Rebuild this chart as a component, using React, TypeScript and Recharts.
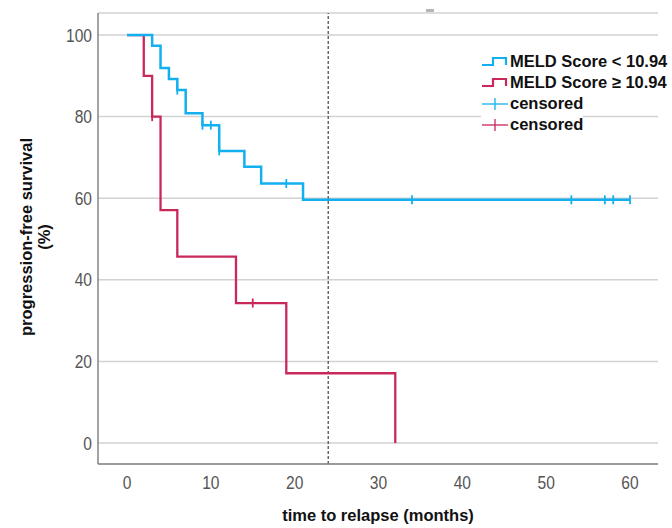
import React from 'react';
import { ComposedChart, Line, Scatter, XAxis, YAxis, CartesianGrid, ReferenceLine } from 'recharts';

// MELD < 10.94 group
const lowTimes = [0, 3, 4, 5, 6, 7, 9, 11, 14, 16, 21, 60];
const lowSurv = [100, 97.4, 91.9, 89.2, 86.5, 80.8, 77.9, 71.6, 67.7, 63.6, 59.6, 59.6];
const lowCensorTimes = [6, 9, 10, 11, 19, 34, 53, 57, 58, 60];
const lowCensorSurv = [86.5, 77.9, 77.9, 71.6, 63.6, 59.6, 59.6, 59.6, 59.6, 59.6];

// MELD >= 10.94 group
const highTimes = [0, 2, 3, 4, 6, 13, 19, 32];
const highSurv = [100, 90, 80, 57.1, 45.7, 34.3, 17.1, 0];
const highCensorTimes = [3, 15];
const highCensorSurv = [80, 34.3];

const xTicks = [0, 10, 20, 30, 40, 50, 60];
const yTicks = [0, 20, 40, 60, 80, 100];
const landmark = 24;

const BLUE = '#12b0ef';
const RED = '#c9285a';

const toRows = (t: number[], s: number[]) => t.map((v, i) => ({ t: v, s: s[i] }));

const lowCurve = toRows(lowTimes, lowSurv);
const highCurve = toRows(highTimes, highSurv);
const lowCensor = toRows(lowCensorTimes, lowCensorSurv);
const highCensor = toRows(highCensorTimes, highCensorSurv);

const censorShape = (color: string) => (props: any) => {
    const { cx, cy } = props;
    return <line x1={cx} x2={cx} y1={cy - 4.5} y2={cy + 4.5} stroke={color} strokeWidth={1.8} />;
};

const YTick = ({ x, y, payload }: any) => (
    <text transform={`translate(${x},${y}) scale(0.82,1)`} textAnchor="end" dy="0.35em" fontSize={19} fill="#555" fontFamily="Liberation Sans, Arial, sans-serif">
        {payload.value}
    </text>
);

const XTick = ({ x, y, payload }: any) => (
    <text transform={`translate(${x},${y + 18}) scale(0.82,1)`} textAnchor="middle" dy="0.35em" fontSize={19} fill="#555" fontFamily="Liberation Sans, Arial, sans-serif">
        {payload.value}
    </text>
);

const titleFont = { fontFamily: 'Liberation Sans, Arial, sans-serif', fontWeight: 700, fontSize: 16.5, fill: '#111' };

const StepIcon = ({ color }: { color: string }) => (
    <svg width={28} height={14} style={{ display: 'block' }}>
        <path d="M1 10 H12 V3 H25 V10" fill="none" stroke={color} strokeWidth={2.2} />
    </svg>
);

const CensorIcon = ({ color }: { color: string }) => (
    <svg width={28} height={14} style={{ display: 'block' }}>
        <line x1={1} x2={27} y1={7} y2={7} stroke={color} strokeWidth={1.3} />
        <line x1={14} x2={14} y1={1} y2={13} stroke={color} strokeWidth={1.3} />
    </svg>
);

const legendItems = [
    { label: 'MELD Score < 10.94', color: BLUE, kind: 'step' },
    { label: 'MELD Score ≥ 10.94', color: RED, kind: 'step' },
    { label: 'censored', color: BLUE, kind: 'censor' },
    { label: 'censored', color: RED, kind: 'censor' },
];

export default function App() {
    return (
        <div style={{ position: 'absolute', left: 0, top: 0, width: 672, height: 528, background: '#fff' }}>
            <ComposedChart width={672} height={528} margin={{ top: 13, right: 14, left: 0, bottom: 0 }}>
                <CartesianGrid horizontal vertical={false} stroke="#d2d2d2" strokeWidth={1.5} />
                <XAxis
                    type="number"
                    dataKey="t"
                    domain={[-3.46, 63.34]}
                    ticks={xTicks}
                    allowDataOverflow
                    height={64}
                    tickSize={0}
                    tickMargin={0}
                    tick={<XTick />}
                    stroke="#858585"
                    strokeWidth={1.5}
                    label={(p: any) => (
                        <text x={378} y={521} textAnchor="middle" style={titleFont}>
                            time to relapse (months)
                        </text>
                    )}
                />
                <YAxis
                    type="number"
                    dataKey="s"
                    domain={[-5.15, 105.4]}
                    ticks={yTicks}
                    allowDataOverflow
                    width={98}
                    tickSize={0}
                    tickMargin={6}
                    tick={<YTick />}
                    stroke="#858585"
                    strokeWidth={1.5}
                    label={(p: any) => (
                        <g>
                            <text transform="translate(26,237) rotate(-90)" textAnchor="middle" dy="0.35em" style={titleFont}>
                                progression-free survival
                            </text>
                            <text transform="translate(44,237) rotate(-90)" textAnchor="middle" dy="0.35em" style={titleFont}>
                                (%)
                            </text>
                        </g>
                    )}
                />
                <ReferenceLine x={landmark} stroke="#444" strokeWidth={1.2} strokeDasharray="3 2" />
                <Line data={highCurve} dataKey="s" type="stepAfter" stroke={RED} strokeWidth={2.3} dot={false} activeDot={false} isAnimationActive={false} />
                <Line data={lowCurve} dataKey="s" type="stepAfter" stroke={BLUE} strokeWidth={2.5} dot={false} activeDot={false} isAnimationActive={false} />
                <Scatter data={highCensor} dataKey="s" shape={censorShape(RED)} isAnimationActive={false} />
                <Scatter data={lowCensor} dataKey="s" shape={censorShape(BLUE)} isAnimationActive={false} />
            </ComposedChart>

            <div style={{ position: 'absolute', left: 426, top: 9, width: 8, height: 3, background: '#b5b5b5' }} />

            <div style={{ position: 'absolute', left: 481, top: 51, fontFamily: 'Liberation Sans, Arial, sans-serif', fontWeight: 700, fontSize: 16.5, color: '#111' }}>
                {legendItems.map((it, i) => (
                    <div key={i} style={{ display: 'flex', alignItems: 'center', height: 21, lineHeight: '21px', background: '#fff', width: 'fit-content', whiteSpace: 'nowrap' }}>
                        {it.kind === 'step' ? <StepIcon color={it.color} /> : <CensorIcon color={it.color} />}
                        <span style={{ marginLeft: 1 }}>{it.label}</span>
                    </div>
                ))}
            </div>
        </div>
    );
}
